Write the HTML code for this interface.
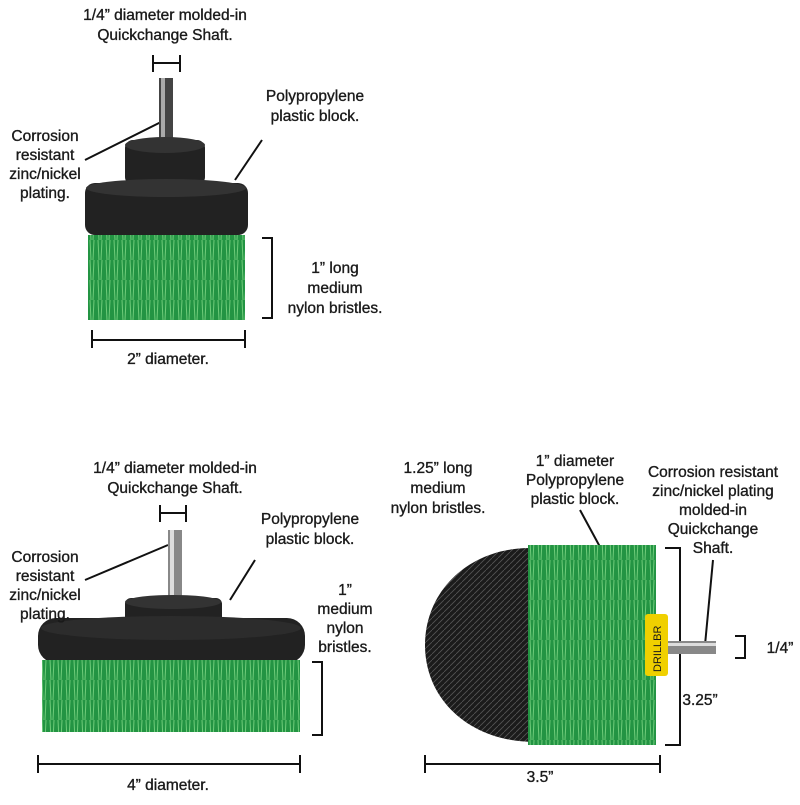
<!DOCTYPE html>
<html><head><meta charset="utf-8"><style>
body{margin:0;background:#fff;width:800px;height:800px;overflow:hidden}
text{font-family:"Liberation Sans Narrow","Liberation Sans",sans-serif;font-size:15.5px;fill:#1a1a1a;stroke:#1a1a1a;stroke-width:0.35}
</style></head><body>
<svg width="800" height="800" viewBox="0 0 800 800" xmlns="http://www.w3.org/2000/svg">
<defs>
<pattern id="g" width="8" height="20" patternUnits="userSpaceOnUse">
<rect width="8" height="20" fill="#239443"/><path d="M2 0L3 20M6 0L5 20" stroke="#6fcc7a" stroke-width="1"/>
</pattern>
<pattern id="b" width="6" height="6" patternUnits="userSpaceOnUse">
<rect width="6" height="6" fill="#1b1b1b"/><path d="M0 6L6 0" stroke="#555" stroke-width="0.8"/>
</pattern>
</defs>
<g stroke="#111" stroke-width="2" fill="none">
<path d="M153 55V72M180 55V72M153 63H180"/>
<path d="M262 238H272V318H262"/>
<path d="M92 330V348M245 330V348M92 340H245"/>
<path d="M165 120L85 160M235 180L262 140"/>
<path d="M160 505V522M186 505V522M160 513H186"/>
<path d="M312 662H322V735H312"/>
<path d="M38 755V773M300 755V773M38 764H300"/>
<path d="M168 545L85 580M230 600L255 560"/>
<path d="M665 548H680V745H665"/>
<path d="M735 636H745V658H735"/>
<path d="M425 755V773M660 755V773M425 764H660"/>
<path d="M470 575L510 600M580 510L645 630M713 560L705 645"/>
</g>
<rect x="159" y="78" width="14" height="65" fill="#444"/>
<rect x="161" y="78" width="4" height="65" fill="#aaa"/>
<rect x="125" y="140" width="80" height="45" rx="8" fill="#222"/>
<ellipse cx="165" cy="145" rx="40" ry="8" fill="#333"/>
<rect x="85" y="183" width="163" height="52" rx="10" fill="#222"/>
<ellipse cx="166" cy="188" rx="80" ry="9" fill="#333"/>
<rect x="88" y="235" width="157" height="85" fill="url(#g)"/>
<rect x="168" y="530" width="14" height="75" fill="#888"/>
<rect x="170" y="530" width="4" height="75" fill="#ddd"/>
<rect x="125" y="598" width="97" height="30" rx="6" fill="#222"/>
<ellipse cx="173" cy="602" rx="48" ry="7" fill="#333"/>
<rect x="38" y="618" width="267" height="45" rx="18" fill="#222"/>
<ellipse cx="171" cy="628" rx="130" ry="12" fill="#2c2c2c"/>
<rect x="42" y="660" width="258" height="72" fill="url(#g)"/>
<path d="M530 548C470 548 425 590 425 645C425 700 470 742 535 742Z" fill="url(#b)"/>
<rect x="528" y="545" width="128" height="200" fill="url(#g)"/>
<rect x="645" y="614" width="23" height="62" rx="3" fill="#f0d000"/>
<text x="0" y="0" transform="translate(661,672) rotate(-90)" style="font-size:11px;stroke-width:0">DRILLBR</text>
<rect x="668" y="641" width="48" height="13" fill="#888"/>
<rect x="668" y="643" width="48" height="3" fill="#ddd"/>
<g text-anchor="middle">
<text x="165" y="20">1/4” diameter molded-in</text>
<text x="165" y="40">Quickchange Shaft.</text>
<text x="315" y="101">Polypropylene</text>
<text x="315" y="121">plastic block.</text>
<text x="45" y="141">Corrosion</text>
<text x="45" y="160">resistant</text>
<text x="45" y="179">zinc/nickel</text>
<text x="45" y="198">plating.</text>
<text x="335" y="273">1” long</text>
<text x="335" y="293">medium</text>
<text x="335" y="313">nylon bristles.</text>
<text x="168" y="364">2” diameter.</text>
<text x="175" y="473">1/4” diameter molded-in</text>
<text x="175" y="493">Quickchange Shaft.</text>
<text x="310" y="524">Polypropylene</text>
<text x="310" y="544">plastic block.</text>
<text x="45" y="562">Corrosion</text>
<text x="45" y="581">resistant</text>
<text x="45" y="600">zinc/nickel</text>
<text x="45" y="619">plating.</text>
<text x="345" y="595">1”</text>
<text x="345" y="614">medium</text>
<text x="345" y="633">nylon</text>
<text x="345" y="652">bristles.</text>
<text x="168" y="790">4” diameter.</text>
<text x="438" y="473">1.25” long</text>
<text x="438" y="493">medium</text>
<text x="438" y="513">nylon bristles.</text>
<text x="575" y="466">1” diameter</text>
<text x="575" y="485">Polypropylene</text>
<text x="575" y="504">plastic block.</text>
<text x="713" y="477">Corrosion resistant</text>
<text x="713" y="496">zinc/nickel plating</text>
<text x="713" y="515">molded-in</text>
<text x="713" y="534">Quickchange</text>
<text x="713" y="553">Shaft.</text>
<text x="700" y="705">3.25”</text>
<text x="780" y="653">1/4”</text>
<text x="540" y="782">3.5”</text>
</g>
</svg>
</body></html>
